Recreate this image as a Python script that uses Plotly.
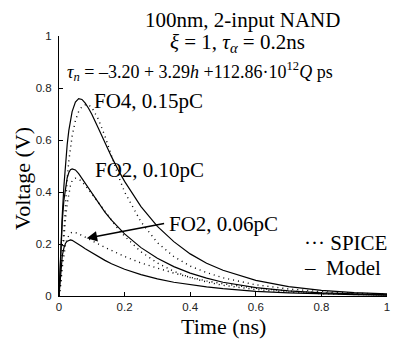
import plotly.graph_objects as go

# time axis (ns)
t = [0, 0.005, 0.01, 0.015, 0.02, 0.025, 0.03, 0.035, 0.04, 0.05, 0.06, 0.07, 0.08, 0.09,
     0.10, 0.12, 0.14, 0.16, 0.18, 0.20, 0.25, 0.30, 0.35, 0.40, 0.45, 0.50, 0.60, 0.70,
     0.80, 0.90, 1.00]

# FO4, 0.15pC
fo4_model = [0, 0.173, 0.312, 0.424, 0.513, 0.583, 0.637, 0.679, 0.709, 0.746, 0.759, 0.756,
             0.742, 0.722, 0.699, 0.645, 0.589, 0.536, 0.486, 0.441, 0.344, 0.268, 0.209,
             0.162, 0.126, 0.099, 0.060, 0.036, 0.022, 0.013, 0.008]
fo4_spice = [0, 0.06, 0.16, 0.27, 0.37, 0.45, 0.52, 0.57, 0.615, 0.675, 0.71, 0.728, 0.735,
             0.735, 0.725, 0.68, 0.615, 0.54, 0.465, 0.40, 0.285, 0.205, 0.152, 0.115, 0.09,
             0.07, 0.043, 0.027, 0.017, 0.011, 0.007]

# FO2, 0.10pC
fo2a_model = [0, 0.171, 0.289, 0.369, 0.421, 0.455, 0.475, 0.486, 0.489, 0.485, 0.471, 0.452,
              0.433, 0.413, 0.394, 0.357, 0.323, 0.292, 0.264, 0.239, 0.186, 0.145, 0.113,
              0.088, 0.069, 0.053, 0.032, 0.020, 0.012, 0.007, 0.004]
fo2a_spice = [0, 0.05, 0.14, 0.23, 0.30, 0.355, 0.395, 0.425, 0.443, 0.453, 0.45, 0.44, 0.425,
              0.41, 0.393, 0.36, 0.325, 0.29, 0.258, 0.23, 0.17, 0.127, 0.095, 0.071, 0.054,
              0.041, 0.025, 0.015, 0.009, 0.006, 0.004]

# FO2, 0.06pC
fo2b_model = [0, 0.10, 0.155, 0.185, 0.203, 0.211, 0.215, 0.216, 0.214, 0.207, 0.199, 0.19,
              0.182, 0.174, 0.166, 0.151, 0.137, 0.124, 0.113, 0.103, 0.082, 0.066, 0.053,
              0.043, 0.035, 0.028, 0.018, 0.012, 0.008, 0.005, 0.003]
fo2b_spice = [0, 0.04, 0.11, 0.165, 0.20, 0.222, 0.235, 0.242, 0.245, 0.244, 0.239, 0.233,
              0.226, 0.22, 0.213, 0.20, 0.187, 0.175, 0.163, 0.152, 0.127, 0.106, 0.088,
              0.072, 0.058, 0.047, 0.030, 0.019, 0.012, 0.007, 0.004]

tick_vals = [0, 0.2, 0.4, 0.6, 0.8, 1]
tick_text = ["0", "0.2", "0.4", "0.6", "0.8", "1"]

SERIF = "Liberation Serif, Times New Roman, serif"
SANS = "Liberation Sans, Arial, sans-serif"

fig = go.Figure()
for ys in (fo4_model, fo2a_model, fo2b_model):
    fig.add_trace(go.Scatter(x=t, y=ys, mode="lines", line=dict(color="black", width=1.2),
                             showlegend=False, hoverinfo="skip"))
for ys in (fo4_spice, fo2a_spice, fo2b_spice):
    fig.add_trace(go.Scatter(x=t, y=ys, mode="lines",
                             line=dict(color="black", width=1.4, dash="1px,4px"),
                             showlegend=False, hoverinfo="skip"))

ann_font = dict(family=SERIF, size=22, color="black")
annotations = [
    dict(x=0.558, y=1.062, text="100nm, 2-input NAND", xanchor="center", size=21),
    dict(x=0.543, y=0.973, text="<i>ξ</i> = 1, <i>τ<sub>α</sub></i> = 0.2ns",
         xanchor="center", size=21),
    dict(x=0.43, y=0.865,
         text="<i>τ<sub>n</sub></i> = –3.20 + 3.29<i>h</i> +112.86·10<sup>12</sup><i>Q</i> ps",
         xanchor="center", size=18),
    dict(x=0.101, y=0.75, text="FO4, 0.15pC", xanchor="left", size=21),
    dict(x=0.103, y=0.485, text="FO2, 0.10pC", xanchor="left", size=21),
    dict(x=0.328, y=0.277, text="FO2, 0.06pC", xanchor="left", size=21),
    dict(x=0.741, y=0.204, text="··· SPICE", xanchor="left", size=21),
    dict(x=0.741, y=0.108, text="–  Model", xanchor="left", size=21),
]
for a in annotations:
    sz = a.pop("size")
    fig.add_annotation(xref="paper", yref="paper", yanchor="middle", showarrow=False,
                       font=dict(family=SERIF, size=sz, color="black"), **a)

# arrow pointing to FO2, 0.06pC curve
fig.add_annotation(xref="x", yref="y", axref="x", ayref="y",
                   x=0.0845, y=0.222, ax=0.325, ay=0.28, text="",
                   showarrow=True, arrowhead=2, arrowsize=1.3, arrowwidth=1.6,
                   arrowcolor="black", standoff=0, startstandoff=0)

# axis titles
fig.add_annotation(xref="paper", yref="paper", x=0.5, y=-0.117, text="Time (ns)",
                   showarrow=False, xanchor="center", yanchor="middle", font=ann_font)
fig.add_annotation(xref="paper", yref="paper", x=-0.11, y=0.454, text="Voltage (V)",
                   showarrow=False, textangle=-90, xanchor="center", yanchor="middle",
                   font=ann_font)

axis_common = dict(range=[0, 1], showgrid=False, zeroline=False, showline=True,
                   linecolor="black", linewidth=1, ticks="inside", ticklen=4,
                   tickcolor="black", tickwidth=1, mirror=False,
                   tickvals=tick_vals, ticktext=tick_text,
                   tickfont=dict(family=SANS, size=11.5, color="#222"))

# page body adds an 8px offset, so the figure is 8px smaller on each leading side
fig.update_layout(
    width=399, height=335,
    margin=dict(l=51, r=20, t=28, b=47),
    paper_bgcolor="white", plot_bgcolor="white",
    xaxis=dict(**axis_common, ticklabelstandoff=0),
    yaxis=dict(**axis_common, ticklabelstandoff=4),
    showlegend=False,
)

fig.write_html("out.html")
